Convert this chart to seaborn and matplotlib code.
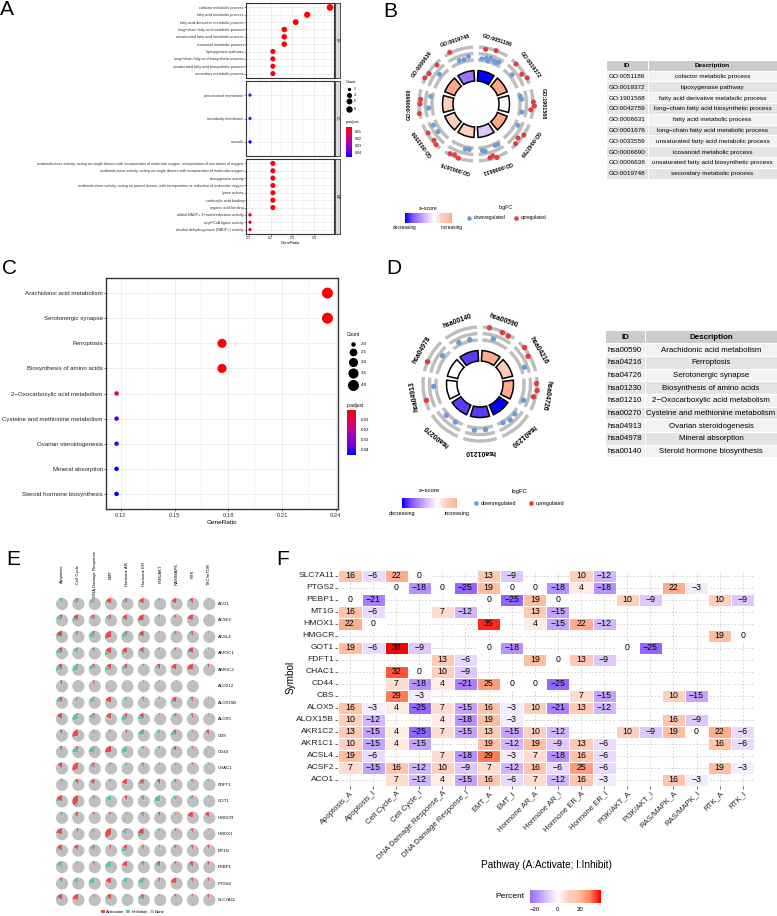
import numpy as np
import pandas as pd
import matplotlib
matplotlib.use("Agg")
import matplotlib.pyplot as plt
import matplotlib.cm as cm
from matplotlib.colors import LinearSegmentedColormap, ListedColormap, Normalize
from matplotlib.patches import Wedge, Rectangle, Patch
import seaborn as sns

W, H = 777, 916
MINUS = "\u2212"

# ---------------- A: GO dot plot ----------------
go_total = 19
go_bp_terms = ["cofactor metabolic process", "fatty acid metabolic process",
               "fatty acid derivative metabolic process",
               "long-chain fatty acid metabolic process",
               "unsaturated fatty acid metabolic process",
               "icosanoid metabolic process", "lipoxygenase pathway",
               "long-chain fatty acid biosynthetic process",
               "unsaturated fatty acid biosynthetic process",
               "secondary metabolic process"]
go_bp_count = [9, 7, 6, 5, 5, 5, 4, 4, 4, 4]
go_bp_padj = [0.0022, 0.0022, 0.0025, 0.003, 0.003, 0.003, 0.004, 0.004, 0.004, 0.0045]
go_cc_terms = ["peroxisomal membrane", "microbody membrane", "caveola"]
go_cc_count = [2, 2, 2]
go_cc_padj = [0.036, 0.036, 0.0465]
go_mf_terms = ["oxidoreductase activity, acting on single donors with incorporation of molecular oxygen, incorporation of two atoms of oxygen",
               "oxidoreductase activity, acting on single donors with incorporation of molecular oxygen",
               "dioxygenase activity",
               "oxidoreductase activity, acting on paired donors, with incorporation or reduction of molecular oxygen",
               "lyase activity", "carboxylic acid binding", "organic acid binding",
               "alditol:NADP+ 1-oxidoreductase activity", "acyl-CoA ligase activity",
               "alcohol dehydrogenase (NADP+) activity"]
go_mf_count = [4, 4, 4, 4, 4, 4, 4, 2, 2, 2]
go_mf_padj = [0.004, 0.004, 0.004, 0.004, 0.004, 0.004, 0.004, 0.008, 0.008, 0.008]

# ---------------- B: GO circle ----------------
go_ids = ["GO:0051186", "GO:0019372", "GO:1901568", "GO:0042759", "GO:0006631",
          "GO:0001676", "GO:0033559", "GO:0006690", "GO:0006636", "GO:0019748"]
go_desc = ["cofactor metabolic process", "lipoxygenase pathway",
           "fatty acid derivative metabolic process",
           "long-chain fatty acid biosynthetic process", "fatty acid metabolic process",
           "long-chain fatty acid metabolic process",
           "unsaturated fatty acid metabolic process", "icosanoid metabolic process",
           "unsaturated fatty acid biosynthetic process", "secondary metabolic process"]
go_logfc = [[-1.1, 0.9, -0.8, -1.3, -0.6, 1.2, -0.9, -1.0, -0.7],
            [1.1, -0.9, 0.7, 1.3],
            [-1.2, -1.0, 1.3, 1.5, 0.8, -0.9],
            [-0.8, 1.2, 0.6, 1.0],
            [-1.0, -1.1, 1.3, 0.7, 0.9, -0.6, -0.8],
            [-1.0, -0.9, 1.2, 0.8, 1.0],
            [1.2, 0.9, -0.8, 1.0, -0.7],
            [1.3, -0.7, 1.0, 0.9, -1.0],
            [1.3, 1.0, -0.8, 0.8],
            [1.4, -0.9, -1.0, -0.6]]

# ---------------- C: KEGG dot plot ----------------
kegg_total = 17
kegg_terms = ["Arachidonic acid metabolism", "Serotonergic synapse", "Ferroptosis",
              "Biosynthesis of amino acids", "2-Oxocarboxylic acid metabolism",
              "Cysteine and methionine metabolism", "Ovarian steroidogenesis",
              "Mineral absorption", "Steroid hormone biosynthesis"]
kegg_count = [4, 4, 3, 3, 2, 2, 2, 2, 2]
kegg_padj = [0.0003, 0.0004, 0.0009, 0.001, 0.012, 0.039, 0.040, 0.046, 0.046]

# ---------------- D: KEGG circle ----------------
kegg_ids = ["hsa00590", "hsa04216", "hsa04726", "hsa01230", "hsa01210",
            "hsa00270", "hsa04913", "hsa04978", "hsa00140"]
kegg_desc = ["Arachidonic acid metabolism", "Ferroptosis", "Serotonergic synapse",
             "Biosynthesis of amino acids", "2-Oxocarboxylic acid metabolism",
             "Cysteine and methionine metabolism", "Ovarian steroidogenesis",
             "Mineral absorption", "Steroid hormone biosynthesis"]
kegg_logfc = [[1.2, -0.8, 1.0, 0.9], [1.3, 0.9, -0.7], [1.1, 1.3, 0.8, -0.9],
              [-1.0, -0.8, -1.2], [-1.0, -0.9], [-1.1, -1.0], [1.0, -0.9],
              [1.2, -0.8], [-0.9, -1.1]]

# ---------------- E: pathway activity pies ----------------
e_pathways = ["Apoptosis", "Cell Cycle", "DNA Damage Response", "EMT", "Hormone AR",
              "Hormone ER", "PI3K/AKT", "RAS/MAPK", "RTK", "TSC/mTOR"]
e_genes = ["ACO1", "ACSF2", "ACSL4", "AKR1C1", "AKR1C2", "ALOX12", "ALOX15B", "ALOX5",
           "CBS", "CD44", "CHAC1", "FDFT1", "GOT1", "HMGCR", "HMOX1", "MT1G", "PEBP1",
           "PTGS2", "SLC7A11"]
e_activation = [[3, 7, 4, 16, 7, 16, 3, 16, 10, 3],
                [7, 16, 10, 7, 16, 25, 3, 6, 19, 3],
                [19, 6, 7, 29, 7, 16, 3, 6, 6, 3],
                [10, 4, 6, 19, 19, 13, 3, 6, 16, 3],
                [13, 4, 7, 13, 10, 3, 10, 19, 22, 6],
                [6, 3, 6, 0, 3, 3, 3, 3, 0, None],
                [10, 3, 4, 19, 3, 6, 3, 16, 6, 3],
                [16, 4, 7, 16, 10, 13, 3, 6, 6, 3],
                [6, 29, 3, 3, 6, 7, 3, 10, 3, 10],
                [6, 7, 4, 25, 3, 3, 3, 10, 3, 3],
                [13, 32, 10, 3, 3, 6, 3, 3, 3, 3],
                [3, 10, 13, 3, 19, 13, 10, 6, 3, 3],
                [19, 38, 6, 0, 10, 6, 0, 3, 3, 3],
                [3, 10, 6, 3, 3, 6, 6, 3, 19, 13],
                [22, 6, 3, 35, 4, 22, 3, 6, 6, 3],
                [16, 13, 7, 6, 13, 6, 3, 6, 6, 6],
                [0, 3, 6, 0, 19, 6, 10, 6, 10, 6],
                [6, 0, 0, 19, 0, 4, 6, 22, 6, 6],
                [16, 22, 3, 13, 3, 10, 3, 6, 3, 6]]
e_inhibition = [[6, 12, 15, 6, 12, 3, 6, 3, 6, 3],
                [15, 12, 9, 12, 6, 6, 6, 6, 3, 3],
                [6, 6, 18, 3, 18, 6, 3, 6, 6, 3],
                [15, 15, 6, 12, 9, 6, 6, 3, 6, 3],
                [15, 25, 15, 15, 12, 3, 9, 0, 6, 0],
                [0, 0, 0, 3, 0, 0, 0, 0, 3, None],
                [12, 9, 18, 3, 9, 3, 3, 9, 6, 3],
                [3, 25, 15, 3, 21, 12, 3, 6, 3, 3],
                [3, 3, 6, 6, 3, 15, 9, 15, 3, 3],
                [3, 18, 21, 0, 25, 6, 6, 6, 3, 3],
                [3, 0, 9, 6, 6, 3, 3, 6, 3, 3],
                [3, 3, 6, 6, 0, 9, 3, 6, 6, 6],
                [6, 9, 3, 18, 3, 6, 25, 9, 9, 3],
                [3, 6, 3, 6, 6, 6, 3, 6, 0, 3],
                [0, 3, 9, 3, 15, 12, 6, 3, 3, 3],
                [6, 3, 12, 3, 15, 3, 3, 6, 3, 3],
                [21, 6, 3, 25, 0, 6, 9, 3, 9, 3],
                [3, 18, 25, 0, 18, 18, 3, 3, 3, 3],
                [6, 0, 6, 9, 6, 12, 3, 3, 3, 3]]

# ---------------- F: percent heatmap ----------------
f_pathways = ["Apoptosis_A", "Apoptosis_I", "Cell Cycle_A", "Cell Cycle_I",
              "DNA Damage Response_A", "DNA Damage Response_I", "EMT_A", "EMT_I",
              "Hormone AR_A", "Hormone AR_I", "Hormone ER_A", "Hormone ER_I",
              "PI3K/AKT_A", "PI3K/AKT_I", "RAS/MAPK_A", "RAS/MAPK_I", "RTK_A", "RTK_I"]
f_genes = ["SLC7A11", "PTGS2", "PEBP1", "MT1G", "HMOX1", "HMGCR", "GOT1", "FDFT1",
           "CHAC1", "CD44", "CBS", "ALOX5", "ALOX15B", "AKR1C2", "AKR1C1", "ACSL4",
           "ACSF2", "ACO1"]
N = None
f_percent = [[16, -6, 22, 0, N, N, 13, -9, N, N, 10, -12, N, N, N, N, N, N],
             [N, N, 0, -18, 0, -25, 19, 0, 0, -18, 4, -18, N, N, 22, -3, N, N],
             [0, -21, N, N, N, N, 0, -25, 19, 0, N, N, 10, -9, N, N, 10, -9],
             [16, -6, N, N, 7, -12, N, N, 13, -15, N, N, N, N, N, N, N, N],
             [22, 0, N, N, N, N, 35, N, 4, -15, 22, -12, N, N, N, N, N, N],
             [N, N, N, N, N, N, N, N, N, N, N, N, N, N, N, N, 19, 0],
             [19, -6, 38, -9, N, N, 0, -18, N, N, N, N, 0, -25, N, N, N, N],
             [N, N, N, N, 13, -6, N, N, 19, 0, 13, -9, N, N, N, N, N, N],
             [N, N, 32, 0, 10, -9, N, N, N, N, N, N, N, N, N, N, N, N],
             [N, N, 7, -18, 4, -21, 25, 0, 0, -25, N, N, N, N, N, N, N, N],
             [N, N, 29, -3, N, N, N, N, N, N, 7, -15, N, N, 10, -15, N, N],
             [16, -3, 4, -25, 7, -15, 16, -3, 10, -21, 13, -12, N, N, N, N, N, N],
             [10, -12, N, N, 4, -18, 19, -3, N, N, N, N, N, N, 16, -9, N, N],
             [13, -15, 4, -25, 7, -15, 13, -15, 10, -12, N, N, 10, -9, 19, 0, 22, -6],
             [10, -15, 4, -15, N, N, 19, -12, 19, -9, 13, -6, N, N, N, N, 16, -6],
             [19, -6, N, N, 7, -18, 29, -3, 7, -18, 16, -6, N, N, N, N, N, N],
             [7, -15, 16, -12, 10, -9, 7, -12, 16, -6, 25, -6, N, N, N, N, 19, -3],
             [N, N, 7, -12, 4, -15, 16, -6, 7, -12, 16, -3, N, N, 16, -3, N, N]]

# ---------------- styling ----------------
plt.rcParams["font.family"] = ["Liberation Sans", "DejaVu Sans"]
plt.rcParams["axes.unicode_minus"] = True

p_cmap = LinearSegmentedColormap.from_list(
    "padj", ["#FF0000", "#E9004F", "#C90089", "#9900C2", "#7300E1", "#0000FF"])
z_cmap = LinearSegmentedColormap.from_list(
    "z", ["#0000FF", "#7F52FF", "#B38BFF", "#DCC4FF", "#FFFFFF",
          "#FFD0BF", "#FFBEA0", "#FF8863", "#FF0000"])
UP, DOWN = "#E53A40", "#6C9BDB"
E_COLORS = ["#EC4A50", "#5FC3A5", "#BFBFBF"]


def trunc_cmap(cmap, lo, hi):
    return ListedColormap(cmap(np.linspace(lo, hi, 256)))


def disp(s):
    return s.replace("-", MINUS)


fig = plt.figure(figsize=(W / 100, H / 100), dpi=100)


def px_axes(x0, y0, x1, y1):
    return fig.add_axes([x0 / W, 1 - y1 / H, (x1 - x0) / W, (y1 - y0) / H])


def P(y):
    return H - y


over = px_axes(0, 0, W, H)
over.set_xlim(0, W)
over.set_ylim(0, H)
over.axis("off")

for letter, lx, ly in [("A", 0, 0), ("B", 383, 2), ("C", 2, 259), ("D", 386, 259),
                       ("E", 6, 550), ("F", 276, 550)]:
    over.text(lx, P(ly), letter, fontsize=15, ha="left", va="top")


def area_fn(cmin, cmax, dmin, dmax):
    def f(c):
        d = dmin + (dmax - dmin) * np.sqrt((c - cmin) / (cmax - cmin))
        return (d * 0.72) ** 2
    return f


def dot_panel(ax, terms, counts, padj, total, pnorm, size_fn, xlim, ysize, border):
    df = pd.DataFrame({"Description": [disp(t) for t in terms],
                       "GeneRatio": np.asarray(counts) / total,
                       "Count": counts, "p.adjust": padj})
    sizes = {c: size_fn(c) for c in sorted(set(counts))}
    sns.scatterplot(data=df, x="GeneRatio", y="Description", hue="p.adjust",
                    palette=p_cmap, hue_norm=pnorm, size="Count", sizes=sizes,
                    legend=False, linewidth=0, ax=ax, zorder=3)
    ax.set_ylim(len(terms) - 0.4, -0.6)
    ax.set_xlim(*xlim)
    ax.set_xlabel("")
    ax.set_ylabel("")
    ax.grid(which="major", color="#EBEBEB", lw=0.6)
    ax.grid(which="minor", color="#EBEBEB", lw=0.35)
    ax.set_axisbelow(True)
    ax.tick_params(axis="y", labelsize=ysize, length=1.2, width=0.4, pad=0.5,
                   colors="#333333")
    for sp in ax.spines.values():
        sp.set_color("#333333")
        sp.set_linewidth(border)


# ---- Panel A ----
a_ratio = np.array(go_bp_count + go_cc_count + go_mf_count) / go_total
a_pad = 0.05 * (a_ratio.max() - a_ratio.min())
a_xlim = (a_ratio.min() - a_pad, a_ratio.max() + a_pad)
a_padj_all = go_bp_padj + go_cc_padj + go_mf_padj
a_pnorm = (min(a_padj_all), max(a_padj_all))
a_counts = go_bp_count + go_cc_count + go_mf_count
a_size = area_fn(min(a_counts), max(a_counts), 3.3, 6.7)

facets = [(go_bp_terms, go_bp_count, go_bp_padj, "BP", 3, 78),
          (go_cc_terms, go_cc_count, go_cc_padj, "CC", 81, 156),
          (go_mf_terms, go_mf_count, go_mf_padj, "MF", 159, 234)]
for k, (terms, counts, padj, lab, y0, y1) in enumerate(facets):
    ax = px_axes(246, y0, 334, y1)
    dot_panel(ax, terms, counts, padj, go_total, a_pnorm, a_size, a_xlim, 2.7, 0.8)
    ax.set_xticks([0.1, 0.2, 0.3, 0.4])
    ax.set_xticks([0.15, 0.25, 0.35, 0.45], minor=True)
    ax.tick_params(axis="x", which="minor", length=0)
    if k < 2:
        ax.tick_params(axis="x", which="major", length=0, labelbottom=False)
    else:
        ax.tick_params(axis="x", labelsize=2.6, length=1.2, width=0.4, pad=0.5,
                       colors="#333333")
        ax.set_xlabel("GeneRatio", fontsize=2.9, labelpad=0.6)
    st = px_axes(334.5, y0, 340, y1)
    st.set_facecolor("#D9D9D9")
    st.set_xticks([])
    st.set_yticks([])
    for sp in st.spines.values():
        sp.set_color("#333333")
        sp.set_linewidth(0.6)
    st.text(0.5, 0.5, lab, rotation=-90, ha="center", va="center", fontsize=2.5,
            transform=st.transAxes, color="#1A1A1A")

# A legends
over.text(345.5, P(82), "Count", fontsize=2.8, ha="left", va="center")
a_breaks = [2, 4, 6, 8]
a_d = [np.sqrt(a_size(b)) / 0.72 for b in a_breaks]
ky = 89.3
for i, b in enumerate(a_breaks):
    if i > 0:
        ky += (a_d[i - 1] + a_d[i]) / 2 + 1.2
    over.scatter([349.3], [P(ky)], s=a_size(b), c="black", lw=0)
    over.text(354, P(ky), str(b), fontsize=2.5, ha="left", va="center")
over.text(345.5, P(122.5), "p.adjust", fontsize=2.8, ha="left", va="center")
cax = px_axes(346, 126.7, 351.7, 156.7)
cb = fig.colorbar(cm.ScalarMappable(norm=Normalize(*a_pnorm), cmap=p_cmap), cax=cax,
                  ticks=[0.01, 0.02, 0.03, 0.04])
cax.invert_yaxis()
cb.outline.set_visible(False)
cax.tick_params(labelsize=2.5, length=1.2, width=0.4, color="white", pad=1)

# ---- Panel C ----
c_ratio = np.array(kegg_count) / kegg_total
c_pad = 0.05 * (c_ratio.max() - c_ratio.min())
c_xlim = (c_ratio.min() - c_pad, c_ratio.max() + c_pad)
c_pnorm = (min(kegg_padj), max(kegg_padj))
c_size = area_fn(min(kegg_count), max(kegg_count), 4.5, 11.0)
axc = px_axes(106, 278, 338, 509)
dot_panel(axc, kegg_terms, kegg_count, kegg_padj, kegg_total, c_pnorm, c_size, c_xlim,
          4.4, 1.0)
axc.set_xticks([0.12, 0.15, 0.18, 0.21, 0.24])
axc.set_xticks([0.135, 0.165, 0.195, 0.225], minor=True)
axc.tick_params(axis="x", which="minor", length=0)
axc.tick_params(axis="x", labelsize=4.2, length=1.5, width=0.5, pad=1.5, colors="#333333")
axc.tick_params(axis="y", labelsize=4.4, length=1.5, width=0.5, pad=0.8, colors="#222222")
axc.set_xlabel("GeneRatio", fontsize=4.6, labelpad=1.5)

over.text(346.5, P(334), "Count", fontsize=3.5, ha="left", va="center")
c_breaks = [2.0, 2.5, 3.0, 3.5, 4.0]
c_d = [np.sqrt(c_size(b)) / 0.72 for b in c_breaks]
ky = 344.3
for i, b in enumerate(c_breaks):
    if i > 0:
        ky += (c_d[i - 1] + c_d[i]) / 2 + 1.5
    over.scatter([352.7], [P(ky)], s=c_size(b), c="black", lw=0)
    over.text(361, P(ky), f"{b:.1f}", fontsize=3.2, ha="left", va="center")
over.text(346.5, P(405.7), "p.adjust", fontsize=3.5, ha="left", va="center")
cax = px_axes(346.7, 410, 356, 455)
cb = fig.colorbar(cm.ScalarMappable(norm=Normalize(*c_pnorm), cmap=p_cmap), cax=cax,
                  ticks=[0.01, 0.02, 0.03, 0.04])
cax.invert_yaxis()
cb.outline.set_visible(False)
cax.tick_params(labelsize=3.2, length=1.8, width=0.4, color="white", pad=1.5)


# ---- Circles (B, D) ----
def go_circle(cx, cy, ids, lfc_lists, label_fs, dot_s):
    n = len(ids)
    z = np.array([(np.sum(np.array(l) > 0) - np.sum(np.array(l) < 0)) / np.sqrt(len(l))
                  for l in lfc_lists])
    zlim = np.abs(z).max()
    norm = Normalize(-zlim, zlim)
    step = 360 / n
    c = (cx, P(cy))
    for i in range(n):
        a_hi = 90 - i * step
        a_lo = a_hi - step
        mid = (a_hi + a_lo) / 2
        over.add_patch(Wedge(c, 33.5, a_lo + 3.5, a_hi - 3.5, width=10.5,
                             fc=z_cmap(norm(z[i])), ec="black", lw=1.1))
        for r in (44, 50.5, 57):
            over.add_patch(Wedge(c, r + 1.7, a_lo + 3, a_hi - 3, width=3.4,
                                 fc="#BDBDBD", ec="none"))
        vals = np.array(lfc_lists[i])
        m = len(vals)
        ang = np.radians(a_hi - 6 - (np.arange(m) + 0.5) * (step - 12) / m)
        rr = 43 + (vals + 1.6) / 3.2 * 16
        over.scatter(c[0] + rr * np.cos(ang), c[1] + rr * np.sin(ang), s=dot_s,
                     c=[UP if v > 0 else DOWN for v in vals], lw=0, zorder=3)
        t = np.radians(mid)
        over.text(c[0] + 67 * np.cos(t), c[1] + 67 * np.sin(t), ids[i],
                  rotation=mid - 90, rotation_mode="anchor", ha="center", va="center",
                  fontsize=label_fs, fontweight="bold")
    return z, zlim


def circle_legend(z, zlim, bar, zt_y, lab_y, lfc_x, dot_y, dots_x, fs, tfs):
    x0, y0, x1, y1 = bar
    over.text((x0 + x1) / 2, P(zt_y), disp("z-score"), fontsize=tfs, ha="center",
              va="center")
    cax = px_axes(x0, y0, x1, y1)
    lo = 0.5 + z.min() / (2 * zlim)
    hi = 0.5 + z.max() / (2 * zlim)
    cbz = fig.colorbar(cm.ScalarMappable(norm=Normalize(z.min(), z.max()),
                                         cmap=trunc_cmap(z_cmap, lo, hi)),
                       cax=cax, orientation="horizontal")
    cbz.outline.set_visible(False)
    cax.set_xticks([])
    over.text(x0, P(lab_y), "decreasing", fontsize=fs, ha="center", va="center")
    over.text(x1, P(lab_y), "increasing", fontsize=fs, ha="center", va="center")
    over.text(lfc_x, P(zt_y), "logFC", fontsize=tfs, ha="center", va="center")
    for dx, col, txt in zip(dots_x, [DOWN, UP], ["downregulated", "upregulated"]):
        over.scatter([dx], [P(dot_y)], s=11, c=col, lw=0)
        over.text(dx + 5, P(dot_y), txt, fontsize=fs, ha="left", va="center")


def draw_table(x0, xs, x1, y_first, rh, ids, descs, fs):
    rows = [("ID", "Description")] + list(zip(ids, descs))
    for k, (a, b) in enumerate(rows):
        yc = y_first + (k - 1) * rh
        if k == 0:
            fill = "#CCCCCC"
        else:
            fill = "#F2F2F2" if k % 2 == 1 else "#E4E4E4"
        for l, r, txt in [(x0, xs, a), (xs, x1, b)]:
            over.add_patch(Rectangle((l + 0.5, P(yc + rh / 2) + 0.5), r - l - 1, rh - 1,
                                     fc=fill, ec="none"))
            over.text((l + r) / 2, P(yc), disp(txt), fontsize=fs, ha="center",
                      va="center", fontweight="bold" if k == 0 else "normal")


zb, zlb = go_circle(476, 104, go_ids, go_logfc, 3.9, 13)
circle_legend(zb, zlb, (405, 213, 452, 223), 208, 228, 506, 218, (469, 516), 3.4, 3.8)
draw_table(606, 648, 777, 76.5, 10.8, go_ids, go_desc, 4.6)

zd, zld = go_circle(480, 384, kegg_ids, kegg_logfc, 4.9, 15)
circle_legend(zd, zld, (402, 498, 457, 508), 491, 514, 520, 503.3, (476, 531), 3.9, 4.3)
draw_table(605, 645, 777, 350, 12.7, kegg_ids, kegg_desc, 5.7)

# ---- Panel E ----
axe = px_axes(53.8, 595.8, 217.5, 908.2)
nr, nc = len(e_genes), len(e_pathways)
for i in range(nr):
    for j in range(nc):
        a = e_activation[i][j]
        b = e_inhibition[i][j]
        if a is None:
            continue
        axe.pie([a, b, 100 - a - b], colors=E_COLORS, startangle=90, counterclock=True,
                center=(j, nr - 1 - i), radius=0.37, frame=True,
                wedgeprops=dict(linewidth=0))
axe.set_xlim(-0.5, nc - 0.5)
axe.set_ylim(-0.5, nr - 0.5)
axe.set_aspect("auto")
axe.axis("off")
for j, name in enumerate(e_pathways):
    axe.text(j, nr - 1 + 1.82, name, rotation=90, ha="center", va="center",
             fontsize=3.1, clip_on=False)
for i, g in enumerate(e_genes):
    axe.text(nc - 0.47, nr - 1 - i, g, ha="left", va="center", fontsize=3.1,
             clip_on=False)
over.legend([Patch(fc=c, ec="none") for c in E_COLORS], ["Activation", "Inhibition", "None"],
            loc="center", bbox_to_anchor=(133 / W, 1 - 912 / H),
            bbox_transform=fig.transFigure, ncol=3, frameon=False, fontsize=3.1,
            handlelength=0.9, handleheight=0.9, columnspacing=0.5, handletextpad=0.25,
            borderpad=0)

# ---- Panel F ----
fdf = pd.DataFrame(np.array(f_percent, dtype=float), index=f_genes, columns=f_pathways)
fmin, fmax = np.nanmin(fdf.values), np.nanmax(fdf.values)
flim = max(abs(fmin), abs(fmax))
f_cmap = trunc_cmap(z_cmap, 0.5 + fmin / (2 * flim), 0.5 + fmax / (2 * flim))
annot = np.vectorize(lambda v: "" if np.isnan(v) else
                     (MINUS + str(int(-v)) if v < 0 else str(int(v))))(fdf.values)
axf = px_axes(338.4, 569.7, 754.3, 785.7)
caxf = px_axes(529.5, 890, 600.5, 903)
sns.heatmap(fdf, ax=axf, cmap=f_cmap, vmin=fmin, vmax=fmax, annot=annot, fmt="",
            annot_kws={"fontsize": 6.3, "color": "black"}, linewidths=0.6,
            linecolor="white", cbar_ax=caxf, xticklabels=True, yticklabels=True,
            cbar_kws={"orientation": "horizontal", "ticks": [-20, 0, 20]})
axf.set_axisbelow(True)
axf.grid(True, color="#C4C4C4", lw=0.5, ls=(0, (2.5, 2.5)))
axf.set_xticklabels(f_pathways, rotation=45, ha="right", rotation_mode="anchor")
axf.set_yticklabels(f_genes, rotation=0)
axf.tick_params(axis="x", labelsize=5.6, length=2, width=0.5, color="#333333", pad=1,
                labelcolor="#222222")
axf.tick_params(axis="y", labelsize=6.1, length=2, width=0.5, color="#333333", pad=1,
                labelcolor="#222222")
axf.set_xlabel("Pathway (A:Activate; I:Inhibit)", fontsize=7.2)
axf.xaxis.set_label_coords(0.5, (785.7 - 860) / 216)
axf.set_ylabel("Symbol", fontsize=7.2)
axf.yaxis.set_label_coords(-0.104, 0.5)
cbf = axf.collections[0].colorbar
cbf.outline.set_visible(False)
caxf.tick_params(labelsize=4.3, length=2, width=0.5, color="white", pad=1)
over.text(525, P(897), "Percent", fontsize=6.0, ha="right", va="center")

fig.savefig("out.png", dpi=100)
